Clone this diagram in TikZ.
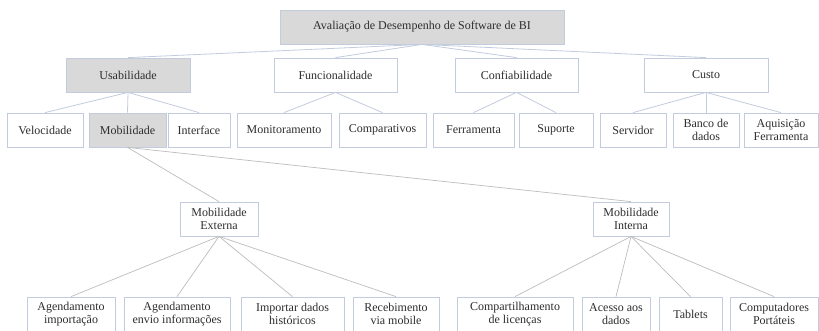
\documentclass[tikz,border=0pt]{standalone}
\usepackage{fontspec}
\setmainfont{Liberation Serif}
\definecolor{boxline}{HTML}{C3CCDE}
\definecolor{boxgray}{HTML}{D9D9D9}
\definecolor{linkblue}{HTML}{C3CCDE}
\definecolor{linkgray}{HTML}{BDBDBD}
\definecolor{txt}{HTML}{2E2E2E}
\begin{document}
\begin{tikzpicture}[x=1pt,y=-1pt,
  box/.style={draw=boxline, line width=0.8pt, fill=white, rectangle, inner sep=0pt,
    minimum height=34pt, text=txt, align=center,
    font=\fontsize{12}{13.5}\selectfont},
  hl/.style={fill=boxgray},
  up/.style={draw=linkblue, line width=0.8pt},
  low/.style={draw=linkgray, line width=0.7pt}]
\useasboundingbox (0,0) rectangle (819,330);
\clip (0,0) rectangle (819,330);
\fill[white] (0,0) rectangle (819,330);

% root
\node[box,hl,minimum width=284pt] (root) at (422,27) {Avaliação de Desempenho de Software de BI};

% criteria
\node[box,hl,minimum width=124pt] (usab) at (128,75) {Usabilidade};
\node[box,minimum width=123pt] (func) at (335.5,75) {Funcionalidade};
\node[box,minimum width=123pt] (conf) at (516.5,75) {Confiabilidade};
\node[box,minimum width=124pt] (custo) at (706,75) {Custo};

% sub-criteria
\node[box,minimum width=76pt] (veloc) at (45,130) {Velocidade};
\node[box,hl,minimum width=77pt] (mobil) at (127.5,130) {Mobilidade};
\node[box,minimum width=62pt] (interf) at (199,130) {Interface};
\node[box,minimum width=94pt] (monit) at (284,130) {Monitoramento};
\node[box,minimum width=87pt] (compar) at (382.5,130) {Comparativos};
\node[box,minimum width=81pt] (ferr) at (473.5,130) {Ferramenta};
\node[box,minimum width=74pt] (sup) at (556,130) {Suporte};
\node[box,minimum width=66pt] (serv) at (633,130) {Servidor};
\node[box,minimum width=66pt] (banco) at (706,130) {Banco de\\dados};
\node[box,minimum width=74pt] (aquis) at (781,130) {Aquisição\\Ferramenta};

% mobility split
\node[box,minimum width=78pt] (mext) at (219,219) {Mobilidade\\Externa};
\node[box,minimum width=76pt] (mint) at (631,219) {Mobilidade\\Interna};

% mobility items
\node[box,minimum width=88pt] (ag1) at (71,314) {Agendamento\\importação};
\node[box,minimum width=106pt] (ag2) at (177,314) {Agendamento\\envio informações};
\node[box,minimum width=103pt] (imp) at (292.5,314) {Importar dados\\históricos};
\node[box,minimum width=86pt] (rec) at (396,314) {Recebimento\\via mobile};
\node[box,minimum width=116pt] (comp) at (515,314) {Compartilhamento\\de licenças};
\node[box,minimum width=68pt] (aces) at (616,314) {Acesso aos\\dados};
\node[box,minimum width=63pt] (tab) at (690.5,314) {Tablets};
\node[box,minimum width=88pt] (cport) at (774,314) {Computadores\\Portáteis};

% connectors
\foreach \c in {usab,func,conf,custo} \draw[up] (root.south) -- (\c.north);
\foreach \c in {veloc,mobil,interf} \draw[up] (usab.south) -- (\c.north);
\foreach \c in {monit,compar} \draw[up] (func.south) -- (\c.north);
\foreach \c in {ferr,sup} \draw[up] (conf.south) -- (\c.north);
\foreach \c in {serv,banco,aquis} \draw[up] (custo.south) -- (\c.north);
\foreach \c in {mext,mint} \draw[low] (mobil.south) -- (\c.north);
\foreach \c in {ag1,ag2,imp,rec} \draw[low] (mext.south) -- (\c.north);
\foreach \c in {comp,aces,tab,cport} \draw[low] (mint.south) -- (\c.north);
\end{tikzpicture}
\end{document}
